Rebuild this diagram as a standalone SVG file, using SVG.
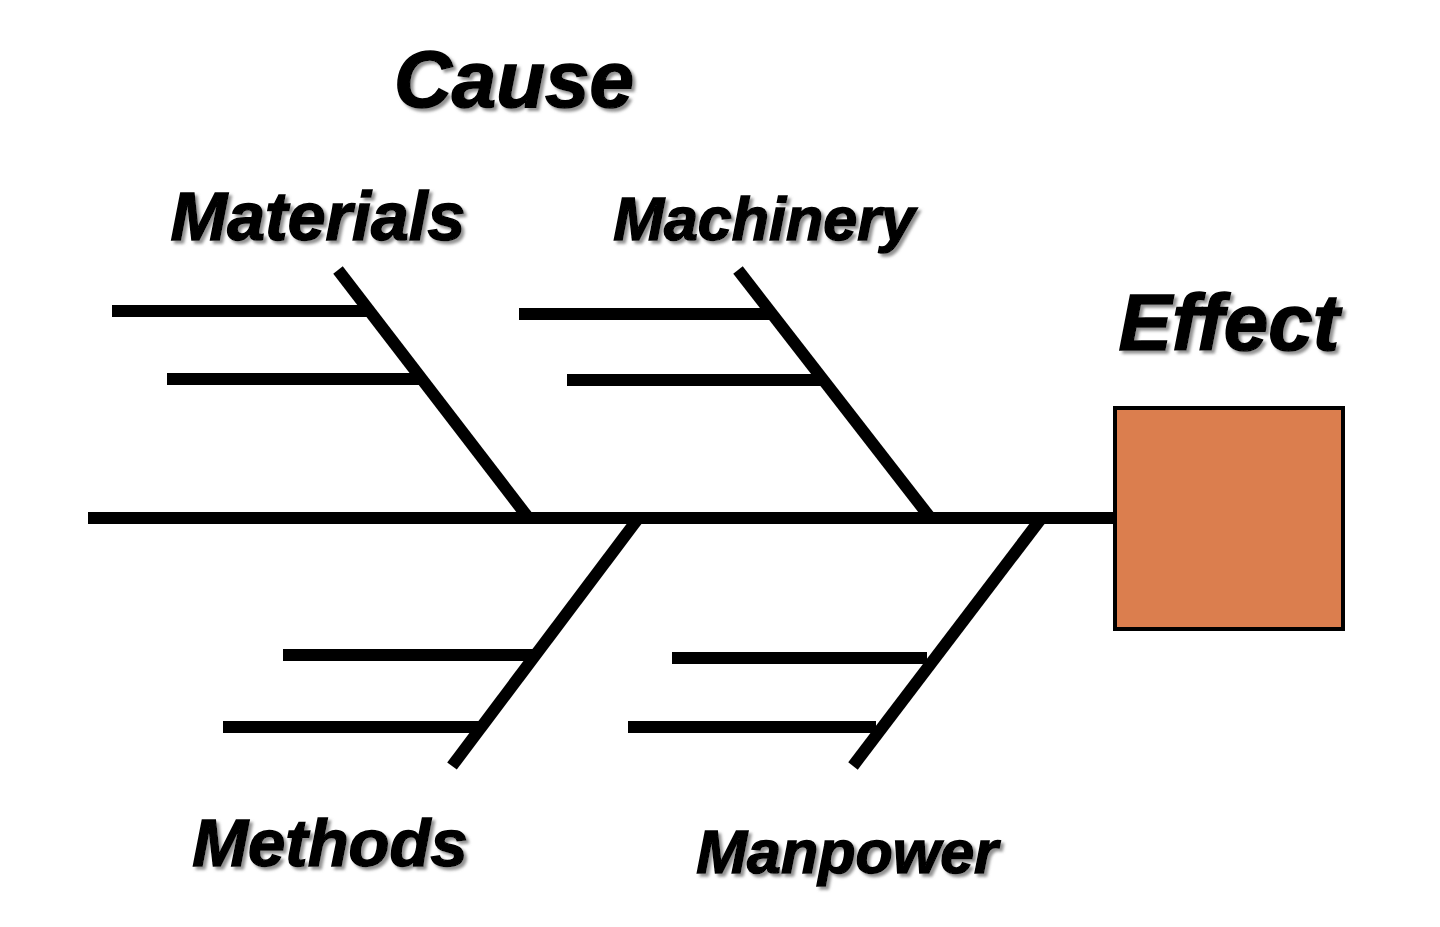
<svg xmlns="http://www.w3.org/2000/svg" width="1440" height="927" viewBox="0 0 1440 927">
<defs>
<filter id="sh" x="-10%" y="-20%" width="130%" height="150%">
<feDropShadow dx="3" dy="3" stdDeviation="1.5" flood-color="#777" flood-opacity="0.8"/>
</filter>
<style>
.lbl{font-family:"Liberation Sans",Arial,sans-serif;font-weight:bold;font-style:italic;fill:#000;stroke:#000;stroke-width:1.5;text-anchor:middle;filter:url(#sh)}
.bone{stroke:#000;stroke-width:12;fill:none;stroke-linecap:butt}
</style>
</defs>
<rect width="1440" height="927" fill="#fff"/>
<g id="connectors">
<line class="bone" x1="88" y1="518" x2="1116" y2="518"/>
<line class="bone" x1="338" y1="270" x2="530" y2="520"/>
<line class="bone" x1="112" y1="311" x2="369" y2="311"/>
<line class="bone" x1="167" y1="379" x2="421" y2="379"/>
<line class="bone" x1="738" y1="270" x2="932" y2="520"/>
<line class="bone" x1="519" y1="314" x2="772" y2="314"/>
<line class="bone" x1="567" y1="380" x2="822" y2="380"/>
<line class="bone" x1="452" y1="766" x2="640" y2="516"/>
<line class="bone" x1="283" y1="655" x2="536" y2="655"/>
<line class="bone" x1="223" y1="727" x2="482" y2="727"/>
<line class="bone" x1="853" y1="766" x2="1043" y2="516"/>
<line class="bone" x1="672" y1="658" x2="927" y2="658"/>
<line class="bone" x1="628" y1="727" x2="876" y2="727"/>
</g>
<g id="effect">
<rect x="1115" y="408" width="228" height="221" fill="#DB7E4E" stroke="#000" stroke-width="4"/>
<text class="lbl" x="1229" y="350" font-size="80">Effect</text>
</g>
<g id="cause"><text class="lbl" x="514" y="107" font-size="80">Cause</text></g>
<g id="materials"><text class="lbl" x="318" y="240" font-size="68">Materials</text></g>
<g id="machinery"><text class="lbl" x="764" y="240" font-size="61">Machinery</text></g>
<g id="methods"><text class="lbl" x="330" y="866" font-size="67">Methods</text></g>
<g id="manpower"><text class="lbl" x="847" y="873" font-size="61">Manpower</text></g>
</svg>
